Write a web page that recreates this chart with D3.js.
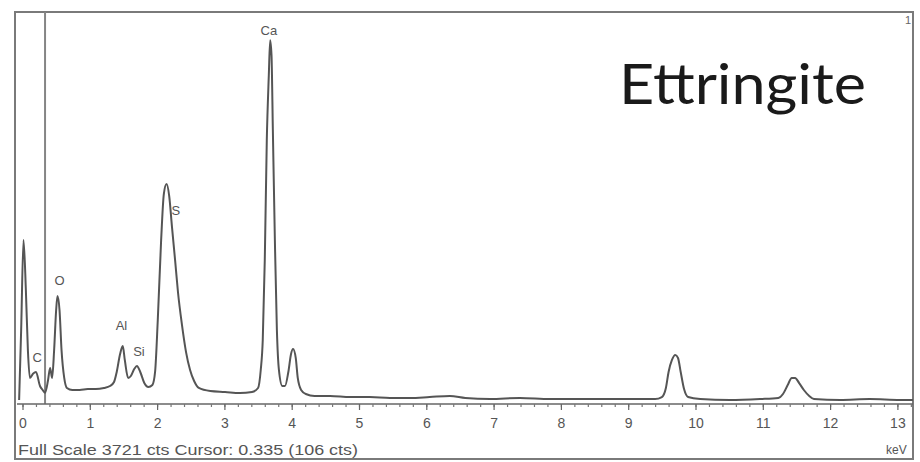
<!DOCTYPE html>
<html>
<head>
<meta charset="utf-8">
<script src="https://cdn.jsdelivr.net/npm/d3@7"></script>
<style>
  html, body { margin: 0; padding: 0; background: #fff; }
  svg { display: block; }
</style>
</head>
<body>
<svg id="chart" width="920" height="462"></svg>
<script>
// EDS spectrum of ettringite: energy (keV) and counts along the trace
const energyKeV = [
  -0.05, -0.02, 0.015, 0.05, 0.08, 0.11, 0.16, 0.20, 0.26, 0.30, 0.335, 0.38, 0.41, 0.44,
  0.47, 0.50, 0.52, 0.55, 0.58, 0.62, 0.66, 0.74, 0.85, 0.97, 1.09, 1.21, 1.30, 1.36,
  1.40, 1.45, 1.49, 1.52, 1.57, 1.61, 1.66, 1.70, 1.75, 1.81, 1.87, 1.93, 1.97, 2.01,
  2.06, 2.10, 2.14, 2.18, 2.22, 2.27, 2.31, 2.37, 2.43, 2.49, 2.55, 2.62, 2.79, 3.01,
  3.23, 3.41, 3.50, 3.54, 3.57, 3.60, 3.63, 3.66, 3.68, 3.70, 3.72, 3.75, 3.78, 3.81,
  3.86, 3.90, 3.95, 3.99, 4.02, 4.06, 4.09, 4.14, 4.21, 4.34, 4.57, 4.87, 5.16, 5.46,
  5.76, 6.05, 6.35, 6.58, 6.95, 7.39, 7.84, 8.28, 8.73, 9.18, 9.40, 9.50, 9.56, 9.60,
  9.65, 9.70, 9.74, 9.78, 9.83, 9.89, 10.07, 10.51, 10.96, 11.23, 11.30, 11.37, 11.43,
  11.48, 11.54, 11.61, 11.69, 11.76, 12.15, 12.59, 13.04, 13.26
];
const counts = [
  38, 702, 1556, 1082, 512, 247, 290, 304, 171, 133, 106, 228, 342, 247,
  512, 892, 1025, 892, 512, 247, 152, 133, 133, 142, 142, 152, 171, 209,
  304, 475, 550, 418, 247, 266, 332, 361, 304, 199, 161, 180, 304, 797,
  1556, 1993, 2088, 1974, 1689, 1347, 1063, 749, 493, 323, 218, 152, 123, 114,
  104, 114, 152, 323, 607, 1367, 2505, 3122, 3454, 3312, 2600, 1556, 702, 323,
  171, 171, 304, 475, 522, 437, 247, 133, 95, 76, 76, 66, 66, 57,
  57, 66, 76, 57, 47, 57, 47, 47, 47, 47, 47, 66, 152, 304,
  418, 465, 437, 304, 142, 66, 47, 38, 47, 57, 95, 180, 247,
  247, 199, 133, 76, 47, 38, 47, 38, 38
];

// Element line labels placed at peak energies
const elementNames = ["C", "O", "Al", "Si", "S", "Ca"];
const elementKeV   = [0.22, 0.55, 1.47, 1.73, 2.28, 3.66];
const elementCts   = [400, 1130, 700, 460, 1790, 3500];

const majorTicks = d3.range(0, 14, 1);
const minorTicks = d3.range(0, 13.25, 0.2);

const fullScale = 3721;
const cursorKeV = 0.335;
const cursorCts = 106;

const svg = d3.select("#chart");
const frame = { left: 15, top: 12, right: 913, bottom: 459 };
const axisY = 404;

const x = d3.scaleLinear().domain([0, 13]).range([22.5, 897.4]);
const y = d3.scaleLinear().domain([0, fullScale]).range([axisY, frame.top]);

const labelFont = "Liberation Sans, Arial, sans-serif";

svg.append("defs").append("clipPath").attr("id", "plotClip")
  .append("rect")
  .attr("x", frame.left).attr("y", frame.top)
  .attr("width", frame.right - frame.left).attr("height", axisY - frame.top);

// Outer frame
svg.append("rect")
  .attr("x", frame.left).attr("y", frame.top)
  .attr("width", frame.right - frame.left).attr("height", frame.bottom - frame.top)
  .attr("fill", "#fff").attr("stroke", "#7a7a7a").attr("stroke-width", 2);

// Cursor marker
svg.append("line")
  .attr("x1", x(cursorKeV)).attr("x2", x(cursorKeV))
  .attr("y1", frame.top).attr("y2", axisY)
  .attr("stroke", "#858585").attr("stroke-width", 2);

// Spectrum trace
const pts = energyKeV.map((e, i) => [e, counts[i]]);
const line = d3.line()
  .x(d => x(d[0])).y(d => y(d[1]))
  .curve(d3.curveMonotoneX);

svg.append("path")
  .datum(pts)
  .attr("clip-path", "url(#plotClip)")
  .attr("d", line)
  .attr("fill", "none")
  .attr("stroke", "#555")
  .attr("stroke-width", 2)
  .attr("stroke-linejoin", "round");

// Energy axis
svg.append("line")
  .attr("x1", 17).attr("x2", frame.right)
  .attr("y1", axisY).attr("y2", axisY)
  .attr("stroke", "#666").attr("stroke-width", 1.5);

const minorAxis = d3.axisBottom(x).tickValues(minorTicks).tickSize(3).tickFormat("");
svg.append("g").attr("transform", `translate(0,${axisY})`).call(minorAxis)
  .call(g => g.select(".domain").remove())
  .call(g => g.selectAll(".tick line").attr("stroke", "#777").attr("stroke-width", 1.2));

const majorAxis = d3.axisBottom(x).tickValues(majorTicks).tickSize(6).tickPadding(8)
  .tickFormat(d3.format("d"));
svg.append("g").attr("transform", `translate(0,${axisY})`).call(majorAxis)
  .call(g => g.select(".domain").remove())
  .call(g => g.selectAll(".tick line").attr("stroke", "#666").attr("stroke-width", 1.2))
  .call(g => g.selectAll(".tick text")
    .attr("fill", "#555")
    .attr("font-family", labelFont)
    .attr("font-size", 14));

// Peak labels
svg.append("g").selectAll("text")
  .data(elementNames)
  .join("text")
  .attr("x", (d, i) => x(elementKeV[i]))
  .attr("y", (d, i) => y(elementCts[i]))
  .attr("text-anchor", "middle")
  .attr("fill", "#555")
  .attr("font-family", labelFont)
  .attr("font-size", 13)
  .text(d => d);

// Status line and unit
svg.append("text")
  .attr("x", 18).attr("y", 455)
  .attr("fill", "#555")
  .attr("font-family", labelFont)
  .attr("font-size", 14)
  .attr("textLength", 340)
  .attr("lengthAdjust", "spacingAndGlyphs")
  .text(`Full Scale ${fullScale} cts Cursor: ${cursorKeV}  (${cursorCts} cts)`);

svg.append("text")
  .attr("x", 886).attr("y", 454)
  .attr("fill", "#555")
  .attr("font-family", labelFont)
  .attr("font-size", 12)
  .text("keV");

svg.append("text")
  .attr("x", 905).attr("y", 24)
  .attr("fill", "#666")
  .attr("font-family", labelFont)
  .attr("font-size", 11)
  .text("1");

// Mineral name
svg.append("text")
  .attr("x", 619).attr("y", 104)
  .attr("fill", "#1a1a1a")
  .attr("font-family", "Lato, 'Open Sans', sans-serif")
  .attr("font-size", 56)
  .attr("textLength", 247)
  .attr("lengthAdjust", "spacingAndGlyphs")
  .text("Ettringite");
</script>
</body>
</html>
